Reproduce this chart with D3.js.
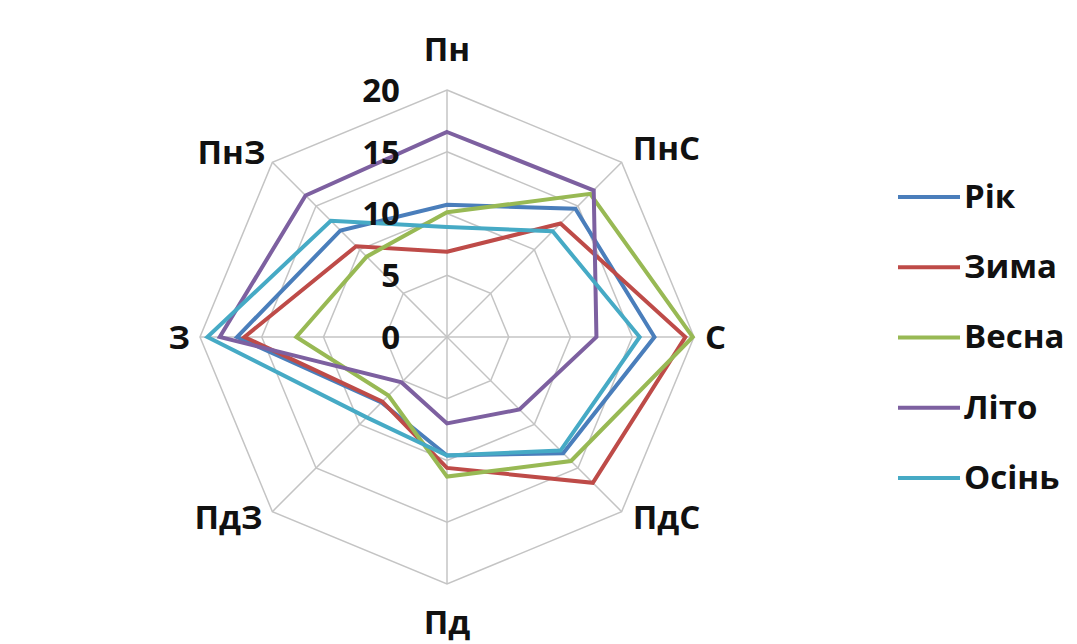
<!DOCTYPE html>
<html>
<head>
<meta charset="utf-8">
<script src="https://cdn.jsdelivr.net/npm/d3@7"></script>
<style>
  html, body { margin: 0; padding: 0; background: #ffffff; }
  svg { display: block; }
  text { font-family: "Open Sans", Lato, "Liberation Sans", sans-serif; font-weight: 700; fill: #111; }
</style>
</head>
<body>
<svg id="chart" width="1077" height="644"></svg>
<script>
// Wind directions (clockwise from north)
const directions = ["Пн", "ПнС", "С", "ПдС", "Пд", "ПдЗ", "З", "ПнЗ"];

// Frequency of winds by direction, %
const seriesNames = ["Рік", "Зима", "Весна", "Літо", "Осінь"];
const rik   = [10.7, 14.7, 16.8, 13.3, 9.6, 7.5, 17.0, 12.2];
const zyma  = [6.9, 13.0, 19.3, 16.7, 10.6, 7.4, 16.4, 10.4];
const vesna = [10.1, 16.4, 19.9, 14.2, 11.3, 6.7, 12.2, 9.2];
const lito  = [16.6, 16.8, 12.1, 8.3, 7.0, 5.2, 18.4, 16.2];
const osin  = [8.9, 12.1, 15.6, 13.0, 9.6, 9.2, 19.4, 13.3];
const seriesValues = [rik, zyma, vesna, lito, osin];
const seriesColors = ["#4a7ebb", "#be4b48", "#98b954", "#7d60a0", "#46aac5"];

// Radial axis ticks
const ticks = [0, 5, 10, 15, 20];

const svg = d3.select("#chart");
const cx = 447, cy = 337;
const fontSize = 33;

const r = d3.scaleLinear().domain([0, 20]).range([0, 247]);
const angle = d3.scaleLinear().domain([0, directions.length]).range([0, 2 * Math.PI]);

function pt(i, v) {
  const a = angle(i);
  return [cx + r(v) * Math.sin(a), cy - r(v) * Math.cos(a)];
}

const g = svg.append("g");

// Grid rings (octagons)
ticks.filter(t => t > 0).forEach(t => {
  const ring = directions.map((d, i) => pt(i, t));
  g.append("path")
    .attr("d", d3.line()(ring) + "Z")
    .attr("fill", "none")
    .attr("stroke", "#c4c4c4")
    .attr("stroke-width", 1.5);
});

// Spokes
directions.forEach((d, i) => {
  const [x, y] = pt(i, 20);
  g.append("line")
    .attr("x1", cx).attr("y1", cy).attr("x2", x).attr("y2", y)
    .attr("stroke", "#c4c4c4")
    .attr("stroke-width", 1.5);
});

// Series lines
const radial = d3.lineRadial()
  .angle((v, i) => angle(i))
  .radius(v => r(v))
  .curve(d3.curveLinearClosed);

seriesValues.forEach((vals, k) => {
  g.append("path")
    .attr("transform", `translate(${cx},${cy})`)
    .attr("d", radial(vals))
    .attr("fill", "none")
    .attr("stroke", seriesColors[k])
    .attr("stroke-width", 4)
    .attr("stroke-linejoin", "miter");
});

// Tick labels along the north spoke
ticks.forEach(t => {
  g.append("text")
    .attr("x", cx - 47)
    .attr("y", cy - r(t) + 3)
    .attr("text-anchor", "end")
    .attr("dominant-baseline", "middle")
    .attr("font-size", fontSize)
    .text(t);
});

// Direction labels
const labelPos = [
  { dx: 0, dy: -38, anchor: "middle" },
  { dx: 11, dy: -11, anchor: "start" },
  { dx: 11, dy: 3, anchor: "start" },
  { dx: 11, dy: 9, anchor: "start" },
  { dx: 0, dy: 41, anchor: "middle" },
  { dx: -10, dy: 9, anchor: "end" },
  { dx: -10, dy: 3, anchor: "end" },
  { dx: -7, dy: -7, anchor: "end" }
];
directions.forEach((d, i) => {
  const [x, y] = pt(i, 20);
  const p = labelPos[i];
  g.append("text")
    .attr("x", x + p.dx)
    .attr("y", y + p.dy)
    .attr("text-anchor", p.anchor)
    .attr("dominant-baseline", "middle")
    .attr("font-size", fontSize)
    .text(d);
});

// Legend
const legend = svg.append("g");
const ly = d3.scalePoint().domain(seriesNames).range([197, 478]);
seriesNames.forEach((name, k) => {
  const y = ly(name);
  legend.append("line")
    .attr("x1", 898).attr("x2", 960)
    .attr("y1", y).attr("y2", y)
    .attr("stroke", seriesColors[k])
    .attr("stroke-width", 4);
  legend.append("text")
    .attr("x", 964)
    .attr("y", y + 2)
    .attr("dominant-baseline", "middle")
    .attr("font-size", fontSize)
    .text(name);
});
</script>
</body>
</html>
